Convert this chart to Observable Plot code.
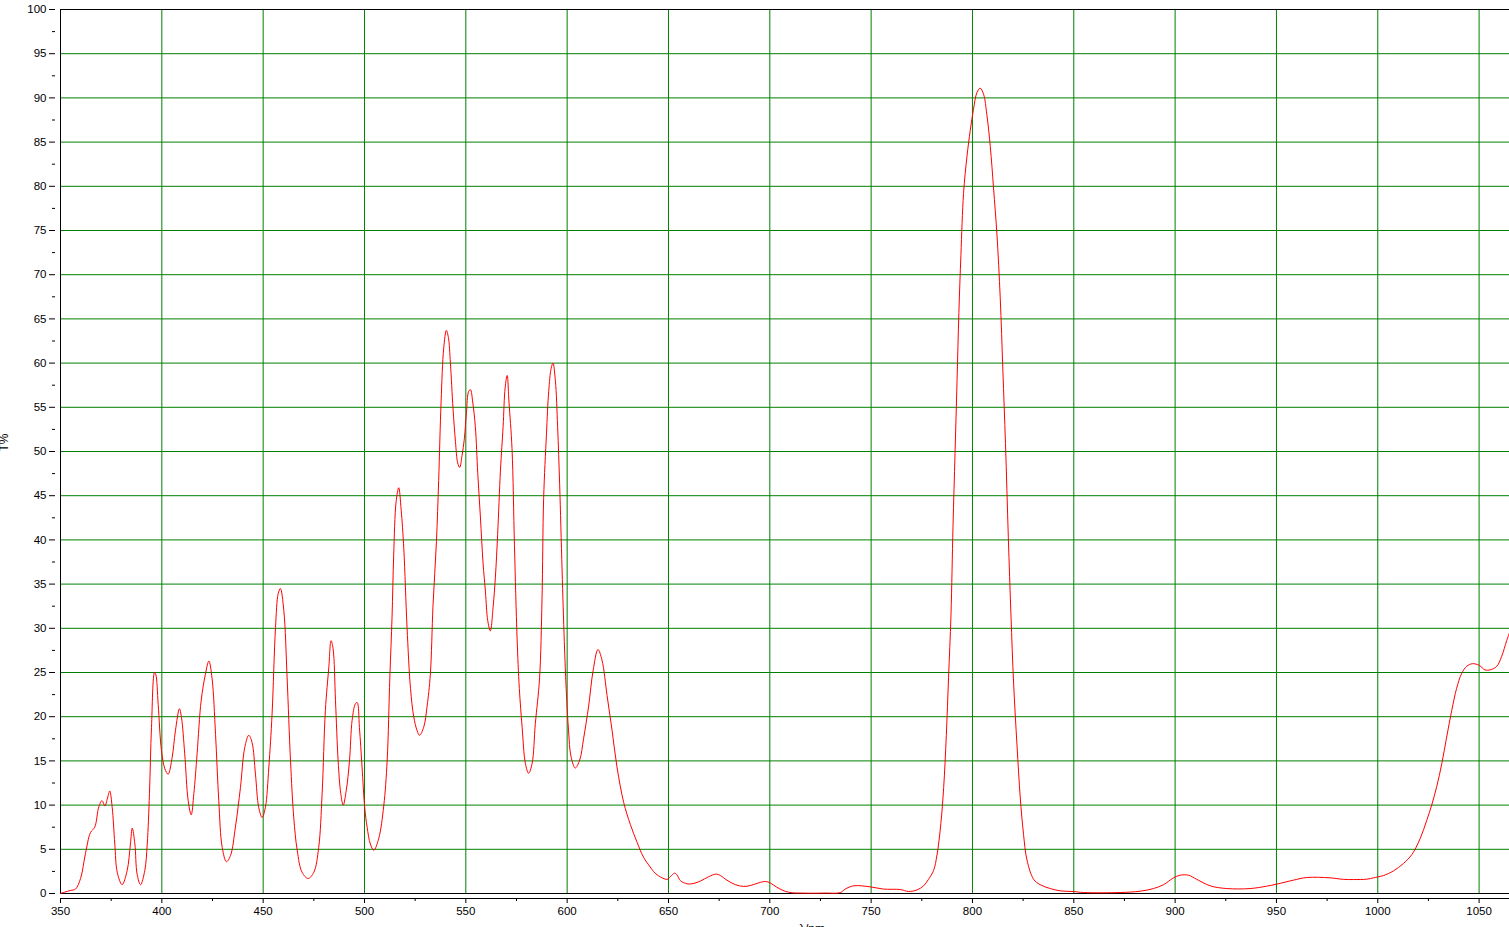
<!DOCTYPE html>
<html>
<head>
<meta charset="utf-8">
<script src="https://cdn.jsdelivr.net/npm/d3@7"></script>
<script src="https://cdn.jsdelivr.net/npm/@observablehq/plot@0.6"></script>
<style>
  html, body { margin: 0; padding: 0; background: #fff; }
  #chart svg { display: block; }
</style>
</head>
<body>
<div id="chart"></div>
<script>
// Wavelength (nm) and transmittance (%)
const wavelength = [
  350.0, 352.0, 355.0, 357.4, 359.9, 362.3, 364.8, 366.9, 368.9, 370.5,
  371.9, 373.2, 374.3, 375.5, 376.8, 378.0, 380.4, 382.9, 384.5, 385.4,
  386.7, 387.8, 389.5, 391.6, 392.8, 393.9, 394.9, 396.4, 397.0, 398.2,
  399.8, 401.5, 403.1, 405.1, 406.7, 408.7, 409.7, 411.3, 413.0, 414.5,
  415.8, 417.4, 419.4, 421.5, 423.2, 424.8, 426.5, 428.1, 429.8, 431.9,
  433.9, 436.3, 438.8, 440.9, 442.9, 444.5, 446.2, 447.8, 449.5, 451.1,
  452.8, 454.4, 456.1, 457.4, 458.5, 460.2, 461.8, 463.5, 465.1, 466.8,
  469.2, 472.2, 475.0, 477.4, 479.1, 480.7, 482.4, 483.5, 484.5, 485.7,
  487.0, 488.3, 489.5, 491.0, 492.6, 493.9, 495.5, 496.4, 497.5, 498.8,
  500.1, 501.3, 502.9, 504.6, 507.0, 509.5, 511.2, 512.5, 513.6, 514.4,
  515.6, 516.9, 518.1, 519.4, 521.0, 522.7, 524.3, 526.0, 527.2, 529.2,
  530.9, 532.5, 533.8, 535.5, 536.6, 537.8, 539.1, 540.4, 541.4, 542.4,
  543.7, 544.9, 546.0, 547.0, 548.1, 549.3, 550.3, 551.4, 552.3, 553.4,
  554.7, 555.9, 557.2, 558.5, 559.7, 560.8, 562.1, 563.5, 564.6, 565.7,
  567.1, 568.4, 569.4, 570.4, 571.3, 572.8, 574.0, 575.3, 576.4, 577.8,
  579.4, 581.0, 582.7, 584.3, 586.4, 587.6, 588.4, 589.8, 590.9, 592.1,
  593.0, 594.2, 595.3, 596.3, 597.5, 598.6, 599.6, 600.7, 601.9, 604.0,
  606.2, 608.1, 610.6, 612.8, 615.2, 617.2, 619.7, 622.2, 624.6, 627.9,
  631.2, 634.5, 637.7, 641.0, 642.7, 645.1, 649.3, 650.9, 653.0, 654.2,
  655.9, 659.2, 661.6, 665.7, 669.8, 673.6, 675.6, 678.9, 683.0, 687.1,
  690.4, 694.5, 697.8, 700.2, 703.5, 707.6, 711.0, 715.0, 721.5, 727.4,
  734.8, 737.2, 741.4, 749.6, 756.1, 764.4, 768.5, 772.6, 775.9, 778.3,
  780.8, 782.5, 784.4, 785.8, 787.1, 788.2, 789.4, 790.4, 791.4, 792.4,
  793.3, 794.3, 795.6, 797.3, 798.9, 800.5, 802.2, 803.8, 805.5, 807.1,
  808.8, 810.4, 812.1, 813.7, 815.0, 816.3, 817.7, 819.0, 820.3, 822.0,
  823.6, 825.2, 826.9, 830.2, 833.4, 838.4, 843.3, 849.9, 854.8, 872.9,
  882.8, 889.3, 894.3, 899.2, 902.5, 906.6, 910.7, 917.3, 925.5, 937.0,
  945.2, 950.2, 958.4, 965.0, 976.5, 983.0, 988.0, 994.6, 997.9, 1000.0,
  1002.8, 1007.7, 1012.7, 1016.8, 1020.9, 1024.2, 1026.6, 1029.1, 1031.6, 1034.0,
  1036.5, 1038.9, 1041.4, 1043.9, 1046.8, 1050.1, 1052.9, 1055.4, 1058.7, 1061.1,
  1063.6, 1065.0
];
const transmittance = [
  0.0, 0.15, 0.35, 0.5, 1.7, 4.5, 6.9, 7.5, 9.8, 10.5,
  9.9, 10.8, 11.6, 9.75, 5.6, 2.4, 1.0, 2.6, 5.6, 7.4,
  5.6, 2.2, 1.0, 2.6, 5.6, 11.3, 18.8, 25.0, 24.8, 21.4,
  16.2, 14.1, 13.5, 15.4, 18.4, 20.9, 19.9, 15.8, 10.5, 8.9,
  11.3, 15.8, 21.8, 24.8, 26.3, 24.3, 18.0, 10.5, 5.2, 3.6,
  4.3, 7.5, 12.0, 16.5, 17.9, 17.1, 13.5, 9.75, 8.6, 9.75,
  14.3, 20.3, 30.1, 33.9, 34.5, 32.0, 24.5, 15.0, 8.6, 4.9,
  2.4, 1.7, 2.4, 5.2, 11.3, 20.7, 25.6, 28.6, 27.7, 21.8,
  15.0, 11.3, 10.0, 11.65, 15.0, 19.6, 21.45, 21.6, 18.8, 14.3,
  9.75, 7.5, 5.6, 4.9, 6.2, 9.9, 15.1, 24.4, 31.3, 38.2,
  44.3, 45.9, 43.4, 39.0, 30.1, 23.2, 20.0, 18.4, 17.9, 18.8,
  21.2, 24.8, 32.5, 39.8, 46.7, 55.6, 61.7, 63.7, 62.9, 60.0,
  54.8, 51.1, 48.7, 48.2, 49.5, 51.5, 54.4, 56.8, 57.0, 55.6,
  52.8, 47.5, 42.6, 37.4, 34.1, 30.9, 29.7, 32.5, 35.8, 40.6,
  47.9, 52.8, 57.2, 58.6, 55.6, 50.3, 39.4, 28.9, 23.2, 18.8,
  14.7, 13.6, 14.7, 19.2, 24.4, 33.3, 44.7, 52.0, 56.8, 59.4,
  60.0, 58.0, 52.8, 46.3, 36.6, 28.5, 22.8, 18.4, 15.5, 14.2,
  15.1, 17.5, 21.2, 25.2, 27.6, 26.4, 22.4, 18.4, 14.3, 10.3,
  7.8, 5.8, 4.1, 3.0, 2.47, 2.0, 1.6, 1.9, 2.3, 2.1,
  1.45, 1.1, 1.1, 1.4, 1.9, 2.2, 2.03, 1.5, 1.0, 0.8,
  0.9, 1.2, 1.36, 1.2, 0.7, 0.25, 0.08, 0.05, 0.03, 0.05,
  0.1, 0.5, 0.87, 0.75, 0.5, 0.45, 0.23, 0.4, 0.87, 1.6,
  2.6, 4.35, 7.9, 12.0, 17.9, 24.4, 31.5, 41.5, 49.8, 58.0,
  65.7, 72.2, 79.2, 83.4, 86.3, 88.7, 90.6, 91.1, 90.4, 88.1,
  84.5, 79.8, 74.5, 67.4, 59.2, 50.9, 40.3, 31.5, 23.8, 16.7,
  10.8, 6.7, 3.8, 1.6, 1.0, 0.56, 0.3, 0.22, 0.11, 0.11,
  0.26, 0.56, 1.0, 1.77, 2.07, 2.07, 1.6, 0.87, 0.56, 0.56,
  0.83, 1.06, 1.51, 1.81, 1.77, 1.6, 1.58, 1.62, 1.77, 1.88,
  2.03, 2.55, 3.4, 4.4, 6.2, 8.3, 10.0, 12.1, 14.7, 17.7,
  20.7, 23.2, 24.9, 25.7, 26.0, 25.8, 25.3, 25.3, 25.7, 26.8,
  28.6, 29.5
];

// Tick and grid positions
const xMajorTicks = [350, 400, 450, 500, 550, 600, 650, 700, 750, 800, 850, 900, 950, 1000, 1050];
const xMinorTicks = [375, 425, 475, 525, 575, 625, 675, 725, 775, 825, 875, 925, 975, 1025];
const yMajorTicks = [0, 5, 10, 15, 20, 25, 30, 35, 40, 45, 50, 55, 60, 65, 70, 75, 80, 85, 90, 95, 100];
const yMinorTicks = [2.5, 7.5, 12.5, 17.5, 22.5, 27.5, 32.5, 37.5, 42.5, 47.5, 52.5, 57.5, 62.5, 67.5, 72.5, 77.5, 82.5, 87.5, 92.5, 97.5];
const xGridLines = [400, 450, 500, 550, 600, 650, 700, 750, 800, 850, 900, 950, 1000, 1050];
const yGridLines = [5, 10, 15, 20, 25, 30, 35, 40, 45, 50, 55, 60, 65, 70, 75, 80, 85, 90, 95];
const xDomain = [350, 1065];
const yDomain = [0, 100];
const xLabel = "λ/nm";
const yLabel = "T%";

const spectrum = wavelength.map((w, i) => ({wavelength: w, transmittance: transmittance[i]}));

const gridColor = "#008000";
const plainNumber = (d) => String(d);
const chart = Plot.plot({
  width: 1509,
  height: 927,
  marginLeft: 60,
  marginRight: 0,
  marginTop: 9,
  marginBottom: 34,
  style: {fontFamily: "'Liberation Sans', Arial, sans-serif", fontSize: "11.5px", background: "#fff", color: "#000", overflow: "hidden"},
  x: {domain: xDomain, label: null},
  y: {domain: yDomain, label: null},
  marks: [
    Plot.ruleX(xGridLines, {stroke: gridColor, strokeWidth: 1}),
    Plot.ruleY(yGridLines, {stroke: gridColor, strokeWidth: 1}),
    Plot.ruleY([yDomain[0], yDomain[1]], {stroke: "#000", strokeWidth: 1}),
    Plot.ruleX([xDomain[0]], {stroke: "#000", strokeWidth: 1}),
    Plot.ruleY([yDomain[0]], {stroke: "#000", strokeWidth: 1, dy: 5}),
    Plot.axisX(xMajorTicks, {tickSize: 5, dy: 5, tickPadding: 3, tickFormat: plainNumber, label: null, stroke: "#000"}),
    Plot.axisX(xMinorTicks, {tickSize: 3, dy: 5, tickFormat: () => "", label: null, stroke: "#000"}),
    Plot.axisY(yMajorTicks, {tickSize: 6, dx: -5, tickPadding: 3, tickFormat: plainNumber, label: null, stroke: "#000"}),
    Plot.axisY(yMinorTicks, {tickSize: 3, dx: -5, tickFormat: () => "", label: null, stroke: "#000"}),
    Plot.line(spectrum, {x: "wavelength", y: "transmittance", stroke: "#ff0000", strokeWidth: 1, curve: "catmull-rom"}),
    Plot.text([yLabel], {frameAnchor: "left", rotate: -90, dx: -53, lineAnchor: "bottom", fontSize: 12, fill: "#000"}),
    Plot.text([xLabel], {frameAnchor: "bottom", dx: 27, dy: 31, lineAnchor: "top", fontSize: 12, fill: "#000"})
  ]
});
document.getElementById("chart").appendChild(chart);
</script>
</body>
</html>
